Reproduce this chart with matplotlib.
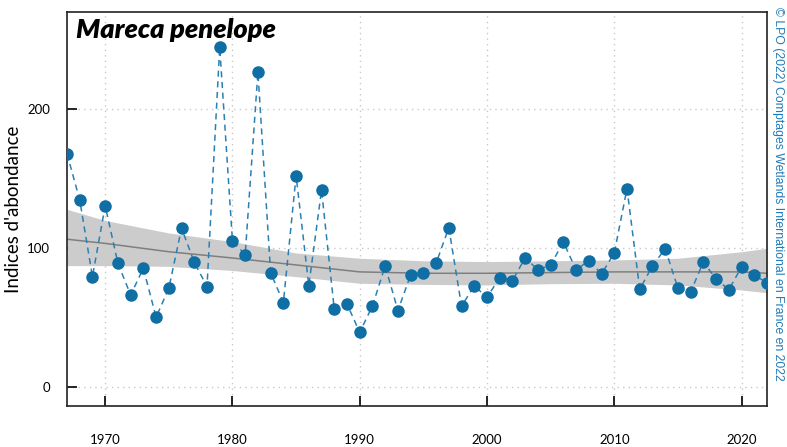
import numpy as np
import matplotlib
matplotlib.use("Agg")
import matplotlib.pyplot as plt

# yearly abundance index
years = list(range(1967, 2023))
index = [168.1, 134.7, 79.6, 130.6, 89.2, 66.4, 85.6, 50.4, 71.2, 114.4,
         89.9, 72.4, 244.6, 105.2, 95.4, 226.6, 82.4, 60.9, 152.2, 73.1,
         141.9, 56.1, 59.9, 39.5, 58.5, 87.3, 55.2, 80.8, 82.2, 89.2,
         114.8, 58.3, 73.0, 64.7, 78.9, 76.7, 93.2, 84.4, 88.0, 104.5,
         84.4, 91.1, 81.5, 96.6, 142.9, 70.5, 87.3, 99.7, 71.4, 68.6,
         90.1, 77.9, 70.2, 86.5, 80.6, 75.3]

# smoothed trend with its confidence band
trend_years = [1967, 1970, 1975, 1980, 1985, 1990, 1995, 2000, 2005, 2010, 2015, 2020, 2022]
trend = [106.5, 103.5, 97.5, 93.0, 88.0, 83.0, 82.0, 82.0, 82.5, 83.0, 83.0, 83.0, 82.0]
trend_lo = [87.5, 87.5, 87.0, 84.0, 79.6, 74.8, 74.0, 73.6, 74.5, 74.8, 73.6, 70.0, 68.0]
trend_hi = [128.0, 120.0, 111.0, 104.8, 96.6, 92.8, 91.0, 90.4, 91.0, 91.6, 92.8, 97.5, 100.0]

blue = "#0f6ea4"

fig = plt.figure(figsize=(7.87, 4.47), dpi=100)
ax = fig.add_axes([67 / 787, 41 / 447, 700 / 787, 394 / 447])

ax.fill_between(trend_years, trend_lo, trend_hi, color="#cccccc", lw=0, zorder=1)
ax.plot(trend_years, trend, color="#7f7f7f", lw=1.1, zorder=2)
ax.plot(years, index, color="#2a80b3", lw=1.1, ls=(0, (4, 3)), zorder=3)
ax.plot(years, index, ls="none", marker="o", ms=8, color=blue, zorder=4)

ax.set_xlim(1967, 2022)
ax.set_ylim(-13.5, 270)
ax.set_xticks([1970, 1980, 1990, 2000, 2010, 2020])
ax.set_yticks([0, 100, 200])
ax.grid(True, color="#c8c8c8", ls=(0, (1, 3)), lw=1)
ax.set_axisbelow(True)

ax.tick_params(axis="x", direction="in", length=7, width=1.2, pad=20, labelsize=9.5)
ax.tick_params(axis="y", direction="in", length=7, width=1.2, pad=12, labelsize=9.5)
for lab in ax.get_xticklabels() + ax.get_yticklabels():
    lab.set_family("Lato")
for sp in ax.spines.values():
    sp.set_linewidth(1.2)
    sp.set_color("#222222")

ax.set_ylabel("Indices d'abondance", family="Lato", fontsize=13.5, labelpad=4)
ax.text(0.013, 0.985, "Mareca penelope", transform=ax.transAxes, ha="left", va="top",
        family="Lato", fontsize=19.5, fontweight="heavy", fontstyle="italic")

fig.text(778 / 787, 0.985, "\u00a9 LPO (2022) Comptages Wetlands International en France en 2022",
         rotation=-90, ha="center", va="top", color="#1f7bb8", fontsize=8.8,
         family="Liberation Sans")

fig.savefig("out.png", dpi=100)
